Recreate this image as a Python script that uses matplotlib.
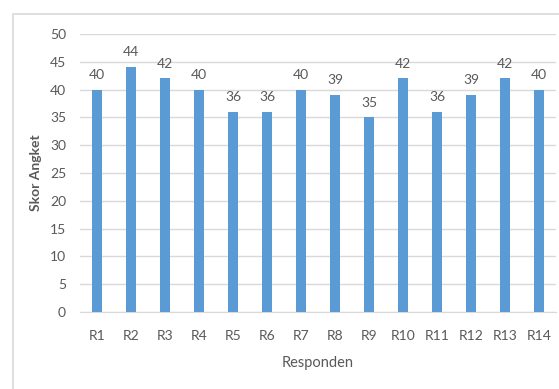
import matplotlib.pyplot as plt
from matplotlib.patches import Rectangle

responden = ['R1', 'R2', 'R3', 'R4', 'R5', 'R6', 'R7', 'R8', 'R9', 'R10', 'R11', 'R12', 'R13', 'R14']
skor = [40, 44, 42, 40, 36, 36, 40, 39, 35, 42, 36, 39, 42, 40]
yticks = [0, 5, 10, 15, 20, 25, 30, 35, 40, 45, 50]

plt.rcParams['font.family'] = ['Lato', 'DejaVu Sans']
grey = '#595959'

fig = plt.figure(figsize=(5.59, 3.89), dpi=100)
# outer chart frame (cut off at right and bottom like the screenshot)
fig.patches.append(Rectangle((13 / 559, -0.1), 1.2, 1 - 14 / 389 + 0.1,
                             transform=fig.transFigure, fill=False,
                             edgecolor='#d9d9d9', linewidth=1.2))

ax = fig.add_axes([80 / 559, 1 - 312 / 389, 476 / 559, 278 / 389])
x = range(len(responden))
bars = ax.bar(x, skor, width=0.3, color='#5b9bd5', zorder=3)
for xi, v in zip(x, skor):
    ax.text(xi, v + 1.6, str(v), ha='center', va='bottom', fontsize=10, color=grey)

ax.set_ylim(0, 50)
ax.set_xlim(-0.5, len(responden) - 0.5)
ax.set_yticks(yticks)
ax.set_xticks(list(x))
ax.set_xticklabels(responden)
ax.tick_params(axis='both', length=0, labelsize=10, colors=grey)
ax.tick_params(axis='x', pad=13)
ax.tick_params(axis='y', pad=10)
ax.grid(axis='y', color='#d9d9d9', linewidth=1, zorder=0)
for s in ['top', 'right', 'left']:
    ax.spines[s].set_visible(False)
ax.spines['bottom'].set_color('#d9d9d9')

ax.set_xlabel('Responden', fontsize=10.5, color=grey, labelpad=10)
ax.set_ylabel('Skor Angket', fontsize=10, color=grey, fontweight='bold', labelpad=6)

plt.savefig('out.png', dpi=100)
